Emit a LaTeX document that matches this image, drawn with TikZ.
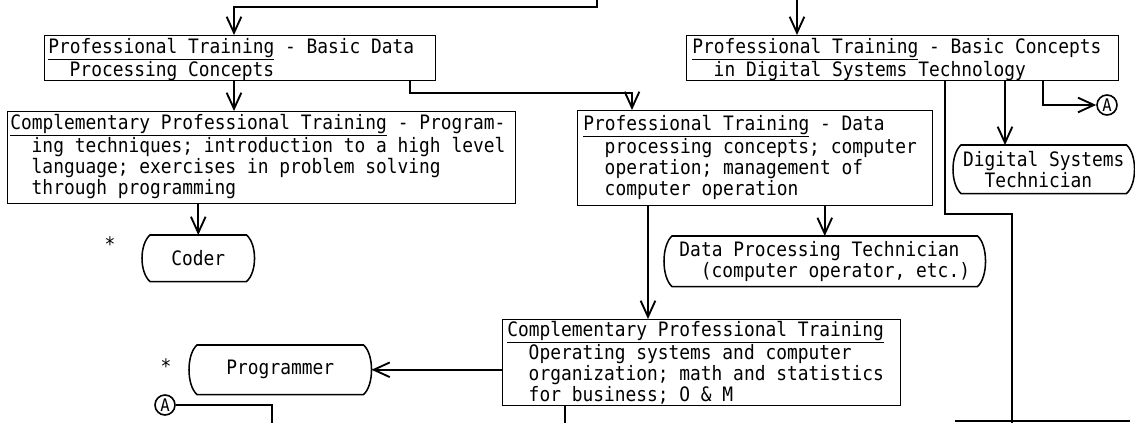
\documentclass[tikz,border=0pt]{standalone}
\usepackage{fontspec}
\setmonofont{DejaVu Sans Mono}[FakeStretch=0.9]
\usetikzlibrary{arrows.meta,calc}
\newcommand\ind{\hspace*{16.1pt}}
\newcommand\termsh[1]{\draw[termline] ([xshift=6pt]#1.north west) -- ([xshift=-6pt]#1.north east) .. controls ([xshift=2pt,yshift=-7pt]#1.north east) and ([xshift=2pt,yshift=7pt]#1.south east) .. ([xshift=-6pt]#1.south east) -- ([xshift=6pt]#1.south west) .. controls ([xshift=-2pt,yshift=7pt]#1.south west) and ([xshift=-2pt,yshift=-7pt]#1.north west) .. cycle;}
\tikzset{
  txt/.style={font=\ttfamily\fontsize{14.9}{15.6}\selectfont},
  box/.style={draw, line width=0.85pt, anchor=north west, inner sep=0pt},
  btext/.style={txt, anchor=north west, align=left, inner sep=0pt},
  term/.style={txt, anchor=north west, align=center, inner sep=0pt},
  termline/.style={line width=1.15pt},
  conn/.style={line width=1.4pt},
  arr/.style={conn, -{Straight Barb[length=12pt,width=11pt]}},
  circ/.style={draw, circle, line width=1.2pt, inner sep=0pt, minimum size=15pt, font=\ttfamily\fontsize{13}{13}\selectfont},
}
\begin{document}
\begin{tikzpicture}[x=0.75pt,y=-0.75pt]
\fill[white] (0,0) rectangle (1135,423);
\useasboundingbox (0,0) rectangle (1135,423);

% boxes (frames)
\node[box, minimum width=293.25pt, minimum height=33.75pt] (b1) at (44,35) {};
\node[box, minimum width=381pt, minimum height=69pt] (b2) at (7,111) {};
\node[box, minimum width=266.25pt, minimum height=71.25pt] (b3) at (577,110) {};
\node[box, minimum width=324pt, minimum height=33.75pt] (b4) at (686,35) {};
\node[box, minimum width=298.5pt, minimum height=64.5pt] (b5) at (502,319) {};

% box texts
\node[btext] (b1t) at ($(b1.north west)+(4,3)$)
  {\underline{Professional Training} - Basic Data\\\ind Processing Concepts};
\node[btext] (b2t) at ($(b2.north west)+(3,3)$)
  {\underline{Complementary Professional Training} - Program-\\\ind ing techniques; introduction to a high level\\\ind language; exercises in problem solving\\\ind through programming};
\node[btext] (b3t) at ($(b3.north west)+(6,5)$)
  {\underline{Professional Training} - Data\\\ind processing concepts; computer\\\ind operation; management of\\\ind computer operation};
\node[btext] (b4t) at ($(b4.north west)+(6,3)$)
  {\underline{Professional Training} - Basic Concepts\\\ind in Digital Systems Technology};
\node[btext] (b5t) at ($(b5.north west)+(5,2)$)
  {\underline{Complementary Professional Training}\\\ind Operating systems and computer\\\ind organization; math and statistics\\\ind for business; O \& M};

% terminals
\node[term, minimum width=84pt, minimum height=34.5pt] (coder) at (142,235) {Coder};
\node[term, minimum width=136.5pt, minimum height=36.75pt] (prog) at (189,345) {Programmer};
\node[term, minimum width=240.75pt, minimum height=37.5pt, align=left] (dpt) at (664,236)
  {Data Processing Technician\\\ind (computer operator, etc.)};
\node[term, minimum width=135.75pt, minimum height=36pt, align=left] (dst) at (953,145)
  {Digital Systems\\\ind Technician};
\termsh{coder}
\termsh{prog}
\termsh{dpt}
\termsh{dst}

\node[txt] (s1) at (110,244) {*};
\node[txt] (s2) at (166,366) {*};
\node[circ] (A1) at (1107,105) {A};
\node[circ] (A2) at (165,405) {A};

% coordinates
\coordinate (t1) at (597,0);
\coordinate (t2) at (597,7);
\coordinate (a1) at (234,7);
\coordinate (t3) at (797,0);
\coordinate (j1) at (410,93);
\coordinate (j2) at (632,93);
\coordinate (j3) at (648,0);
\coordinate (j4) at (1005,0);
\coordinate (j5) at (1043,105);
\coordinate (j6) at (945,214);
\coordinate (j7) at (1012,214);
\coordinate (j8) at (1012,423);
\coordinate (j9) at (955,421);
\coordinate (j10) at (1130,421);
\coordinate (j11) at (565,423);
\coordinate (j12) at (272,406);
\coordinate (j13) at (272,423);

% connectors
\draw[arr] (t1) -- (t2) -- (a1) -- (a1 |- b1.north);
\draw[arr] (t3) -- (t3 |- b4.north);
\draw[arr] (b1.south -| a1) -- (a1 |- b2.north);
\draw[arr] (b1.south -| j1) -- (j1) -- (j2) -- (j2 |- b3.north);
\draw[arr] (b2.south -| coder.north) -- (coder.north);
\draw[arr] (b3.south -| dpt.north) -- (dpt.north);
\draw[arr] (b3.south -| j3) -- (j3 |- b5.north);
\draw[arr] (b5.west |- prog.east) -- (prog.east);
\draw[arr] (b4.south -| j4) -- (j4 |- dst.north);
\draw[arr] (b4.south -| j5) -- (j5) -- (A1.west);
\draw[conn] (b4.south -| j6) -- (j6) -- (j7) -- (j8);
\draw[line width=0.8pt] (j9) -- (j10);
\draw[conn] (b5.south -| j11) -- (j11);
\draw[conn] (A2.east) -- (A2.east -| j12) -- (j13);
\end{tikzpicture}
\end{document}
